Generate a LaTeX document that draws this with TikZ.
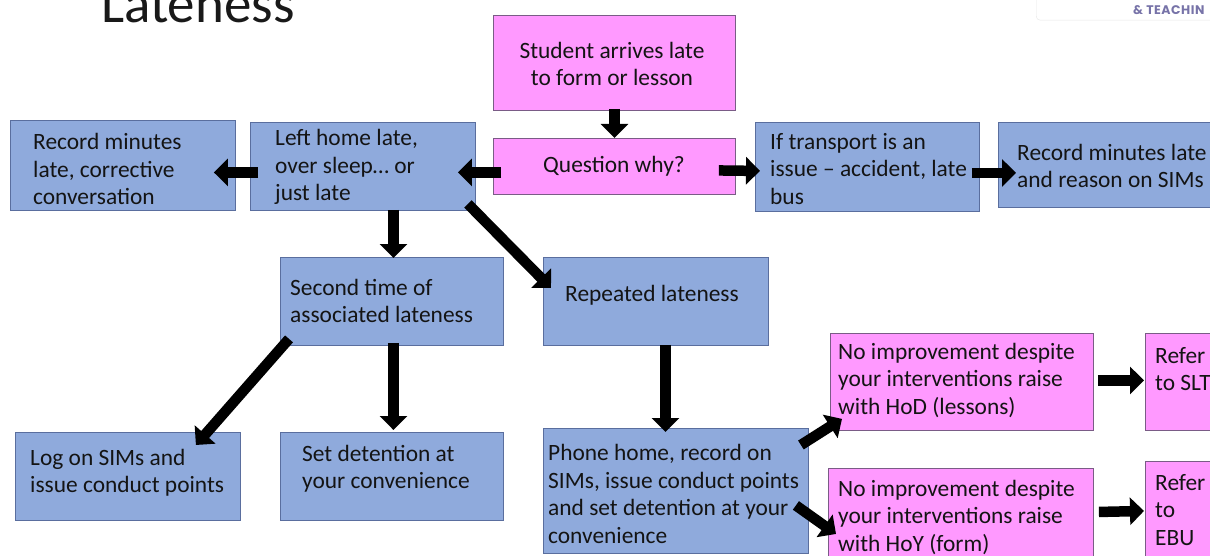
\documentclass[tikz,border=0pt]{standalone}
\usepackage{fontspec}
\setmainfont{Carlito}
\newfontfamily\logofont[LetterSpace=4]{Poppins}
\usetikzlibrary{arrows.meta,calc}
\definecolor{boxblue}{HTML}{8FAADC}
\definecolor{blueedge}{HTML}{5A6E9E}
\definecolor{boxpink}{HTML}{FF99FF}
\definecolor{pinkedge}{HTML}{7A5C86}
\definecolor{txtcol}{HTML}{141414}
\definecolor{logotxt}{HTML}{7773A8}
\begin{document}
\begin{tikzpicture}[x=1pt,y=-1pt,
  bbox/.style={draw=blueedge,fill=boxblue,line width=0.9pt,inner sep=0pt,anchor=north west},
  pbox/.style={draw=pinkedge,fill=boxpink,line width=0.9pt,inner sep=0pt,anchor=north west},
  txt/.style={text=txtcol,inner sep=0pt,align=left,anchor=west,font=\fontsize{23.4}{27.5}\selectfont},
  ctxt/.style={text=txtcol,inner sep=0pt,align=center,font=\fontsize{23.4}{27.5}\selectfont},
  arr/.style={line width=10.5pt,-{Triangle[width=27pt,length=14pt]},black}]
\useasboundingbox (0,0) rectangle (1210,556);
\clip (0,0) rectangle (1210,556);
% title and logo
\node[anchor=base west,inner sep=0pt,text=black!90,font=\fontsize{55}{60}\selectfont] (title) at (101,23) {Lateness};
\node[draw=black!10,rounded corners=4pt,minimum width=190pt,minimum height=32pt,anchor=north west,inner sep=0pt] (logo) at (1036,-12) {};
\node[anchor=base west,inner sep=0pt,text=logotxt,font=\logofont\bfseries\fontsize{12.5}{14}\selectfont] (logotext) at (1133,15) {\& TEACHIN};
% boxes
\node[pbox,minimum width=242pt,minimum height=95pt] (stu) at (493,15) {};
\node[pbox,minimum width=242pt,minimum height=56pt] (qw) at (493,138) {};
\node[bbox,minimum width=225pt,minimum height=88pt] (left) at (250,122) {};
\node[bbox,minimum width=225pt,minimum height=90pt] (rec) at (10,120) {};
\node[bbox,minimum width=224pt,minimum height=89pt] (trans) at (755,122) {};
\node[bbox,minimum width=240pt,minimum height=85pt] (sims) at (998,122) {};
\node[bbox,minimum width=223pt,minimum height=88pt] (second) at (280,257) {};
\node[bbox,minimum width=225pt,minimum height=88pt] (rep) at (543,257) {};
\node[bbox,minimum width=225pt,minimum height=88pt] (log) at (15,432) {};
\node[bbox,minimum width=223pt,minimum height=88pt] (det) at (280,432) {};
\node[bbox,minimum width=265pt,minimum height=125pt] (phone) at (543,428) {};
\node[pbox,minimum width=263pt,minimum height=97pt] (hod) at (830,333) {};
\node[pbox,minimum width=265pt,minimum height=95pt] (hoy) at (828,468) {};
\node[pbox,minimum width=80pt,minimum height=97pt] (slt) at (1145,333) {};
\node[pbox,minimum width=80pt,minimum height=100pt] (ebu) at (1145,461) {};
% texts
\node[ctxt] (tstu) at (612,64) {Student arrives late\\to form or lesson};
\node[ctxt] (tqw) at (614,166) {Question why?};
\node[txt] (tleft) at (275,167) {Left home late,\\over sleep\ldots\ or\\just late};
\node[txt] (trec) at (33,169) {Record minutes\\late, corrective\\conversation};
\node[txt] (ttrans) at (770,169) {If transport is an\\issue -- accident, late\\bus};
\node[txt] (tsims) at (1017,166) {Record minutes late\\and reason on SIMs};
\node[txt] (tsecond) at (290,301) {Second time of\\associated lateness};
\node[txt] (trep) at (565,295) {Repeated lateness};
\node[txt] (tlog) at (30,473) {Log on SIMs and\\issue conduct points};
\node[txt] (tdet) at (302,469) {Set detention at\\your convenience};
\node[txt] (tphone) at (548,494) {Phone home, record on\\SIMs, issue conduct points\\and set detention at your\\convenience};
\node[txt] (thod) at (838,380) {No improvement despite\\your interventions raise\\with HoD (lessons)};
\node[txt] (thoy) at (838,517) {No improvement despite\\your interventions raise\\with HoY (form)};
\node[txt] (tslt) at (1155,369) {Refer\\to SLT};
\node[txt] (tebu) at (1155,510) {Refer\\to\\EBU};
% arrows
\draw[arr] ($(stu.south)+(0,-2)$) -- (qw.north);
\draw[arr] ($(qw.west)+(8,6)$) -- ($(left.east)+(-18,6)$);
\draw[arr] ($(left.west)+(8,6)$) -- ($(rec.east)+(-22,7)$);
\draw[arr] ($(qw.east)+(-17,4)$) -- ($(trans.west)+(5,4)$);
\draw[arr] ($(trans.east)+(-8,6)$) -- ($(sims.west)+(18,8)$);
\draw[arr] ($(left.south)+(30.5,-1)$) -- ($(second.north)+(1.5,1)$);
\draw[arr] ($(left.south east)+(-8,-7)$) -- ($(rep.north west)+(8,31)$);
\draw[arr] ($(second.south west)+(9,-7)$) -- ($(log.north east)+(-45,13)$);
\draw[arr] ($(second.south)+(1.5,-3)$) -- ($(det.north)+(1.5,-2)$);
\draw[arr] ($(rep.south)+(9.5,-1)$) -- ($(phone.north)+(-10.5,4)$);
\draw[arr] ($(phone.north east)+(-8,17)$) -- ($(hod.south west)+(12,-12)$);
\draw[arr] ($(phone.east)+(-13,14.5)$) -- ($(hoy.west)+(8,18)$);
\draw[arr] ($(hod.east)+(4,-1.5)$) -- ($(slt.west)+(-1,-1.5)$);
\draw[arr] ($(hoy.east)+(5,-4)$) -- ($(ebu.west)+(-1,-0.5)$);
\end{tikzpicture}
\end{document}
